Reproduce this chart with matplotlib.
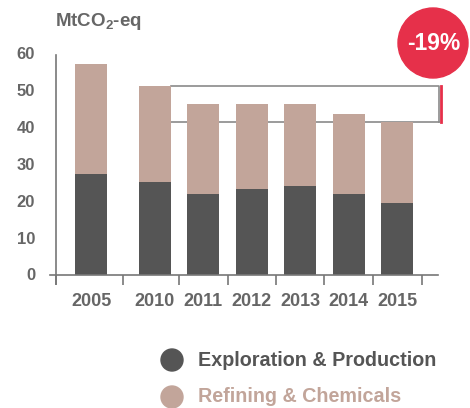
# stacked bars of CO2 emissions by segment, with the -19% bracket

import matplotlib.pyplot as plt
from matplotlib.patches import Ellipse
import numpy as np

plt.rcParams['font.family'] = ['Liberation Sans', 'DejaVu Sans']
plt.rcParams['font.weight'] = 'bold'
plt.rcParams['mathtext.fontset'] = 'custom'
plt.rcParams['mathtext.rm'] = 'Liberation Sans:bold'
plt.rcParams['mathtext.default'] = 'rm'

years = ['2005', '2010', '2011', '2012', '2013', '2014', '2015']
exploration = [27.2, 25.0, 21.8, 23.1, 23.9, 21.8, 19.3]
refining = [29.8, 25.9, 24.3, 23.0, 22.2, 21.6, 21.9]
y_ticks = [0, 10, 20, 30, 40, 50, 60]
change_label = '-19%'

dark = '#555555'
tan = '#c2a59a'
red = '#e6304a'
grey = '#666666'

W, H = 470, 408
fig = plt.figure(figsize=(W / 100, H / 100), dpi=100)
# axes box in pixels: x 56..438, y 52.5..274.5
ax = fig.add_axes([56 / W, 1 - 274.5 / H, 382 / W, 222 / H])

# 2005 stands apart from the rest
pos = np.arange(len(years)) + np.where(np.arange(len(years)) > 0, 0.32, 0.0)
width = 0.66

ax.bar(pos, exploration, width, color=dark, zorder=3)
ax.bar(pos, refining, width, bottom=exploration, color=tan, zorder=3)

ax.set_xlim(-0.723, 7.167)
ax.set_ylim(0, 60)

for s in ax.spines.values():
    s.set_visible(False)

# axes lines, slightly overshooting like the original
ax.plot([-0.016, 1.0], [0, 0], transform=ax.transAxes, color='#777777',
        lw=1.2, clip_on=False, zorder=4)
ax.plot([0, 0], [-0.045, 0.99], transform=ax.transAxes, color='#777777',
        lw=1.2, clip_on=False, zorder=4)

# separator ticks between years
bounds = [-0.723] + list((pos[:-1] + pos[1:]) / 2) + [pos[-1] + 0.52]
ax.set_xticks(bounds)
ax.set_xticklabels([])
ax.tick_params(axis='x', which='major', length=7.5, width=1.2, color='#777777')
ax.set_xticks(pos, minor=True)
ax.set_xticklabels(years, minor=True, fontsize=13, fontweight='bold', color=grey)
ax.tick_params(axis='x', which='minor', length=0, pad=13)

ax.set_yticks(y_ticks)
ax.set_yticklabels([str(v) for v in y_ticks], fontsize=12, fontweight='bold', color=grey)
ax.tick_params(axis='y', length=0, pad=15)

# bracket from 2010 to 2015
top = exploration[1] + refining[1]
low = exploration[-1] + refining[-1]
x0 = pos[1] + width / 2
x1 = 7.19
ax.plot([x0, x1, x1], [top, top, low], color='#8a8a8a', lw=1.2, clip_on=False, zorder=2)
ax.plot([x0, x1], [low, low], color='#8a8a8a', lw=1.2, clip_on=False, zorder=2)
ax.plot([x1 + 0.035, x1 + 0.035], [top, low], color=red, lw=2, clip_on=False, zorder=2)

fig.text(55 / W, 1 - 22 / H, 'MtCO$_2$-eq', fontsize=13.5, fontweight='bold',
         color=grey, ha='left', va='center')

# red badge
fig.add_artist(Ellipse((433 / W, 1 - 43 / H), 70 / W, 70 / H, color=red))
fig.text(434 / W, 1 - 44 / H, change_label, fontsize=16.5, fontweight='bold',
         color='white', ha='center', va='center')

# legend
for (label, col, y) in [('Exploration & Production', dark, 360), ('Refining & Chemicals', tan, 397)]:
    fig.add_artist(Ellipse((172 / W, 1 - y / H), 22 / W, 22 / H, color=col))
    fig.text(198 / W, 1 - y / H, label, fontsize=14.2, fontweight='bold',
             color=col, ha='left', va='center')

fig.savefig('out.png', dpi=100)
plt.close(fig)
